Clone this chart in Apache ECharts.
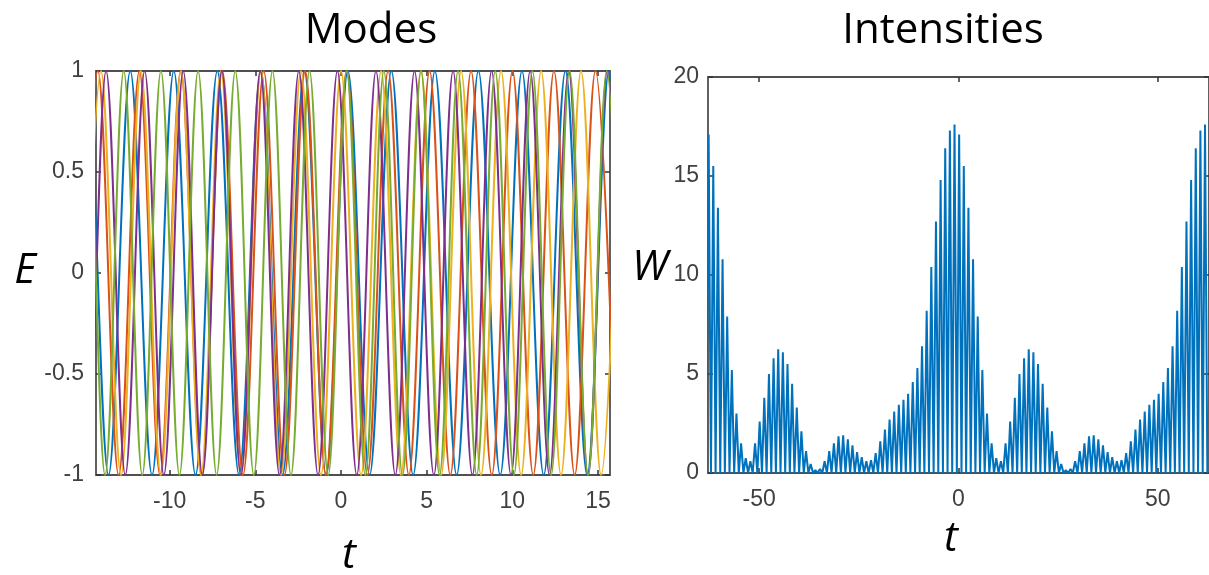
<!DOCTYPE html>
<html><head><meta charset="utf-8">
<script src="https://cdn.jsdelivr.net/npm/echarts@6/dist/echarts.min.js"></script>
<style>html,body{margin:0;padding:0;background:#fff}#c{width:1209px;height:575px}</style>
</head><body><div id="c"></div>
<script>
// ---------- Left panel: extrema (t, E) of each mode ----------
const modeBlue = [[-16.11,-1],[-14.84,1],[-13.57,-1],[-12.30,1],[-11.03,-1],[-9.76,1],[-8.49,-1],[-7.22,1],[-5.95,-1],[-4.68,1],[-3.41,-1],[-2.14,1],[-0.87,-1],[0.40,1],[1.67,-1],[2.94,1],[4.21,-1],[5.48,1],[6.75,-1],[8.02,1],[9.29,-1],[10.56,1],[11.83,-1],[13.10,1],[14.37,-1],[15.64,1],[16.91,-1]];
const modeOrange = [[-15.40,-1],[-14.19,1],[-12.98,-1],[-11.77,1],[-10.56,-1],[-9.35,1],[-8.14,-1],[-6.93,1],[-5.72,-1],[-4.51,1],[-3.30,-1],[-2.09,1],[-0.88,-1],[0.33,1],[1.54,-1],[2.75,1],[3.96,-1],[5.17,1],[6.38,-1],[7.59,1],[8.80,-1],[10.01,1],[11.22,-1],[12.43,1],[13.64,-1],[14.85,1],[16.06,-1]];
const modeYellow = [[-15.18,-1],[-14.01,1],[-12.84,-1],[-11.68,1],[-10.51,-1],[-9.34,1],[-8.17,-1],[-7.01,1],[-5.84,-1],[-4.67,1],[-3.50,-1],[-2.34,1],[-1.17,-1],[0,1],[1.17,-1],[2.34,1],[3.50,-1],[4.67,1],[5.84,-1],[7.01,1],[8.17,-1],[9.34,1],[10.51,-1],[11.68,1],[12.84,-1],[14.01,1],[15.18,-1],[16.35,1]];
const modePurple = [[-15.96,1],[-14.84,-1],[-13.71,1],[-12.59,-1],[-11.46,1],[-10.34,-1],[-9.21,1],[-8.09,-1],[-6.96,1],[-5.84,-1],[-4.71,1],[-3.59,-1],[-2.46,1],[-1.34,-1],[-0.21,1],[0.92,-1],[2.04,1],[3.17,-1],[4.29,1],[5.42,-1],[6.54,1],[7.67,-1],[8.79,1],[9.92,-1],[11.04,1],[12.17,-1],[13.29,1],[14.42,-1],[15.54,1],[16.67,-1]];
const modeGreen = [[-15.93,-1],[-14.85,1],[-13.77,-1],[-12.68,1],[-11.60,-1],[-10.51,1],[-9.43,-1],[-8.34,1],[-7.26,-1],[-6.17,1],[-5.09,-1],[-4.00,1],[-2.92,-1],[-1.84,1],[-0.75,-1],[0.33,1],[1.42,-1],[2.50,1],[3.59,-1],[4.67,1],[5.75,-1],[6.83,1],[7.92,-1],[9.00,1],[10.09,-1],[11.17,1],[12.26,-1],[13.34,1],[14.42,-1],[15.51,1],[16.59,-1]];
const modeColors = ['#0072BD','#D95319','#EDB120','#7E2F8E','#77AC30'];

// ---------- Right panel: intensity W, peak/trough times and values ----------
const peakT = [-62.67,-61.51,-60.34,-59.18,-58.02,-56.85,-55.69,-54.53,-53.36,-52.20,-51.03,-49.87,-48.71,-47.54,-46.38,-45.22,-44.05,-42.89,-41.73,-40.56,-39.40,-38.24,-37.07,-35.91,-34.74,-33.58,-32.42,-31.25,-30.09,-28.93,-27.76,-26.60,-25.44,-24.27,-23.11,-21.94,-20.78,-19.62,-18.45,-17.29,-16.13,-14.96,-13.80,-12.64,-11.47,-10.31,-9.15,-7.98,-6.82,-5.65,-4.49,-3.33,-2.16,-1.00,0.16,1.33,2.49,3.65,4.82,5.98,7.15,8.31,9.47,10.64,11.80,12.96,14.13,15.29,16.45,17.62,18.78,19.94,21.11,22.27,23.44,24.60,25.76,26.93,28.09,29.25,30.42,31.58,32.74,33.91,35.07,36.24,37.40,38.56,39.73,40.89,42.05,43.22,44.38,45.54,46.71,47.87,49.03,50.20,51.36,52.53,53.69,54.85,56.02,57.18,58.34,59.51,60.67,61.83];
const peakW = [17.1,15.5,13.4,10.8,7.9,5.2,3.0,1.5,0.75,0.6,1.5,2.6,3.8,5.0,5.8,6.25,6.1,5.5,4.5,3.3,2.1,1.1,0.45,0.15,0.2,0.6,1.1,1.5,1.85,1.9,1.7,1.4,1.05,0.8,0.6,0.65,1.0,1.6,2.2,2.7,3.1,3.45,3.7,4.0,4.6,5.3,6.4,8.2,10.4,12.7,14.8,16.4,17.3,17.6,
               17.1,15.5,13.4,10.8,7.9,5.2,3.0,1.5,0.75,0.6,1.5,2.6,3.8,5.0,5.8,6.25,6.1,5.5,4.5,3.3,2.1,1.1,0.45,0.15,0.2,0.6,1.1,1.5,1.85,1.9,1.7,1.4,1.05,0.8,0.6,0.65,1.0,1.6,2.2,2.7,3.1,3.45,3.7,4.0,4.6,5.3,6.4,8.2,10.4,12.7,14.8,16.4,17.3,17.6];
const troughT = [-63.25,-62.09,-60.93,-59.76,-58.60,-57.44,-56.27,-55.11,-53.95,-52.78,-51.62,-50.45,-49.29,-48.13,-46.96,-45.80,-44.64,-43.47,-42.31,-41.15,-39.98,-38.82,-37.66,-36.49,-35.33,-34.16,-33.00,-31.84,-30.67,-29.51,-28.35,-27.18,-26.02,-24.86,-23.69,-22.53,-21.36,-20.20,-19.04,-17.87,-16.71,-15.55,-14.38,-13.22,-12.06,-10.89,-9.73,-8.56,-7.40,-6.24,-5.07,-3.91,-2.75,-1.58,-0.42,0.75,1.91,3.07,4.24,5.40,6.56,7.73,8.89,10.05,11.22,12.38,13.55,14.71,15.87,17.04,18.20,19.36,20.53,21.69,22.85,24.02,25.18,26.35,27.51,28.67,29.84,31.00,32.16,33.33,34.49,35.65,36.82,37.98,39.15,40.31,41.47,42.64,43.80,44.96,46.13,47.29,48.45,49.62,50.78,51.95,53.11,54.27,55.44,56.60,57.76,58.93,60.09,61.25,62.42];
const troughW = 0;

// ---------- ticks ----------
const leftXTicks = [-10,-5,0,5,10,15];
const leftYTicks = [-1,-0.5,0,0.5,1];
const rightXTicks = [-50,0,50];
const rightYTicks = [0,5,10,15,20];

const intensity = [];
for (let i = 0; i < troughT.length; i++) {
  intensity.push([troughT[i], troughW]);
  if (i < peakT.length) intensity.push([peakT[i], peakW[i]]);
}

const labelStyle = {fontFamily:'Liberation Sans', fontSize:23, color:'#404040'};
const tickStyle = {show:true, inside:true, length:5, lineStyle:{color:'#333', width:1.5}};

function mkAxis(grid, min, max, ticks, pos, showLabel, margin) {
  return {type:'value', gridIndex:grid, min, max, position:pos,
    axisLine:{show:false, onZero:false}, splitLine:{show:false},
    axisTick:Object.assign({customValues:ticks}, tickStyle),
    axisLabel:Object.assign({show:showLabel, customValues:ticks, margin:margin,
      formatter: v => String(v)}, labelStyle)};
}

const modes = [modeBlue, modeOrange, modeYellow, modePurple, modeGreen];
const series = modes.map((d, i) => ({
  type:'line', xAxisIndex:0, yAxisIndex:0, data:d, showSymbol:false, symbol:'none',
  smooth:0.36, smoothMonotone:'x', clip:true,
  lineStyle:{color:modeColors[i], width:2}, z:2+i
}));
series.push({type:'line', xAxisIndex:2, yAxisIndex:2, data:intensity, showSymbol:false, symbol:'none',
  clip:true, lineStyle:{color:'#0072BD', width:2}});

const chart = echarts.init(document.getElementById('c'), null, {renderer:'canvas'});
chart.setOption({
  animation:false,
  backgroundColor:'#fff',
  grid:[
    {left:96, top:71, width:514, height:404, show:true, borderColor:'#505050', borderWidth:1.8, backgroundColor:'transparent'},
    {left:708, top:77, width:505, height:396, show:true, borderColor:'#505050', borderWidth:1.8, backgroundColor:'transparent'}
  ],
  xAxis:[
    mkAxis(0, -14.3, 15.7, leftXTicks, 'bottom', true, 15),
    mkAxis(0, -14.3, 15.7, leftXTicks, 'top', false, 8),
    mkAxis(1, -62.83, 62.83, rightXTicks, 'bottom', true, 15),
    mkAxis(1, -62.83, 62.83, rightXTicks, 'top', false, 8)
  ],
  yAxis:[
    mkAxis(0, -1, 1, leftYTicks, 'left', true, 12),
    mkAxis(0, -1, 1, leftYTicks, 'right', false, 8),
    mkAxis(1, 0, 20, rightYTicks, 'left', true, 9),
    mkAxis(1, 0, 20, rightYTicks, 'right', false, 8)
  ],
  series: series,
  graphic:[
    {type:'text', x:371, y:31, style:{text:'Modes', font:'42px "Open Sans"', fill:'#000', textAlign:'center', textVerticalAlign:'middle'}},
    {type:'text', x:943, y:31, style:{text:'Intensities', font:'42px "Open Sans"', fill:'#000', textAlign:'center', textVerticalAlign:'middle'}},
    {type:'text', x:25, y:271, style:{text:'E', font:'italic 42px "Open Sans"', fill:'#000', textAlign:'center', textVerticalAlign:'middle'}},
    {type:'text', x:650, y:268, style:{text:'W', font:'italic 42px "Open Sans"', fill:'#000', textAlign:'center', textVerticalAlign:'middle'}},
    {type:'text', x:349, y:556, style:{text:'t', font:'italic 42px "Open Sans"', fill:'#000', textAlign:'center', textVerticalAlign:'middle'}},
    {type:'text', x:951, y:539, style:{text:'t', font:'italic 42px "Open Sans"', fill:'#000', textAlign:'center', textVerticalAlign:'middle'}}
  ]
});
</script></body></html>
